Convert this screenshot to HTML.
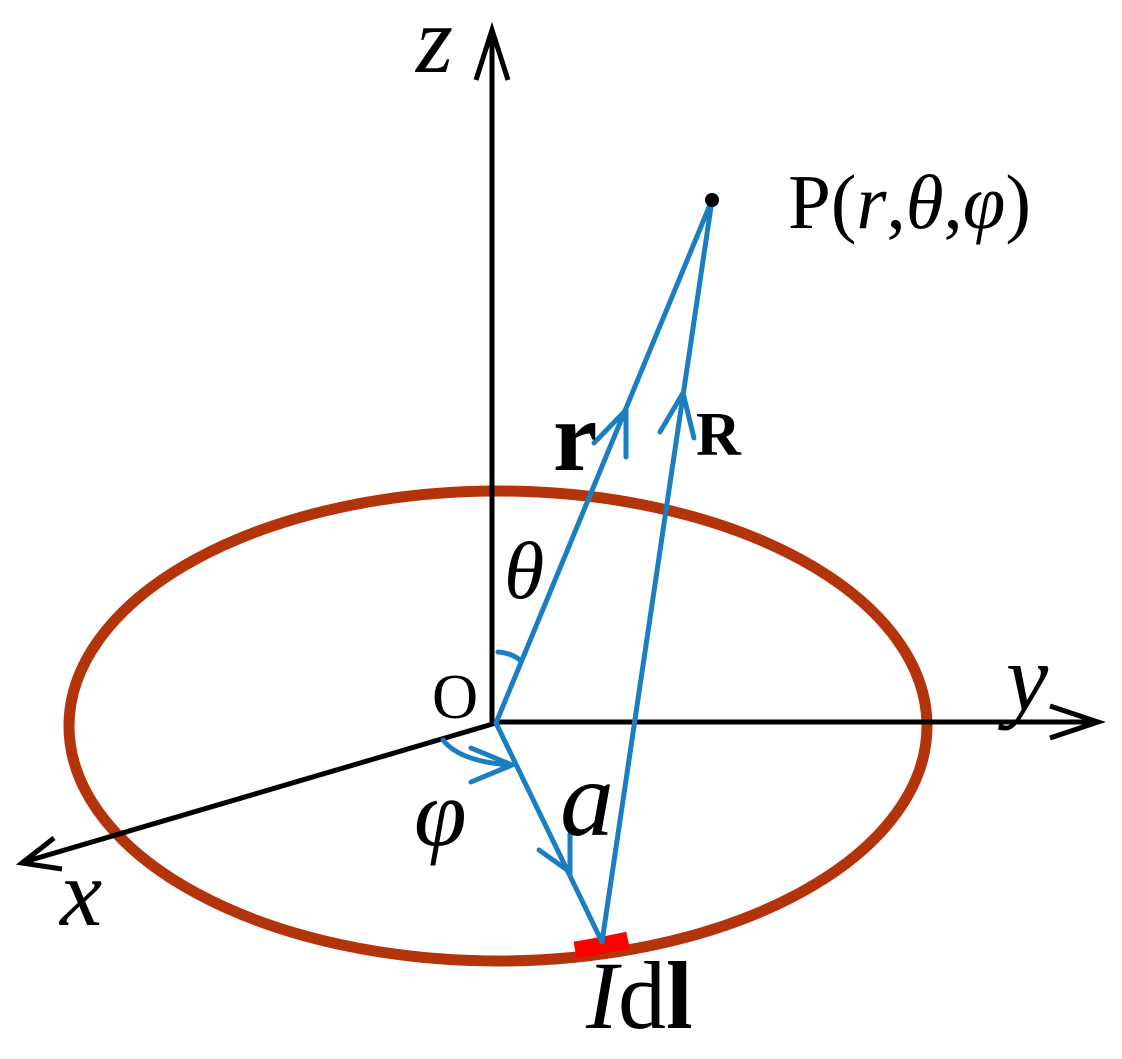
<!DOCTYPE html>
<html><head><style>body{margin:0;background:#fff}svg{display:block}</style></head>
<body>
<svg width="1122" height="1059" viewBox="0 0 1122 1059" xmlns="http://www.w3.org/2000/svg" font-family="Liberation Serif, serif">
<ellipse cx="498" cy="726" rx="429" ry="235" fill="none" stroke="#b3330a" stroke-width="11"/>
<g stroke="#000" stroke-width="5" fill="none">
<line x1="492" y1="723" x2="492" y2="34"/>
<polyline points="476,80 492,30 508,80" stroke-linejoin="miter"/>
<line x1="492" y1="722" x2="1096" y2="722"/>
<polyline points="1050,706 1098,722 1050,738"/>
<line x1="496" y1="723" x2="24" y2="862"/>
<polyline points="54,838 22,863 62,869"/>
</g>
<path d="M575,950 Q600,946 628,940" stroke="#ff0000" stroke-width="17" fill="none"/>
<g stroke="#1a7ec1" stroke-width="5" fill="none" stroke-linecap="round">
<line x1="496" y1="723" x2="712" y2="200"/>
<line x1="602" y1="942" x2="712" y2="200"/>
<line x1="496" y1="723" x2="602" y2="942"/>
<polyline points="594,443 626,410 626,457"/>
<polyline points="660,432 683,393 694,438"/>
<polyline points="539,850 570,872 570,834"/>
<path d="M443,740 Q460,762 512,765"/>
<polyline points="471,748 512,765 471,782"/>
<path d="M498,652 Q512,653 521,661"/>
</g>
<circle cx="712" cy="200" r="7" fill="#000"/>
<text x="416" y="72" font-size="95" font-style="italic">z</text>
<text x="1006" y="710" font-size="95" font-style="italic">y</text>
<text x="60" y="925" font-size="95" font-style="italic">x</text>
<text x="788" y="228" font-size="77">P(<tspan font-style="italic">r</tspan>,<tspan font-style="italic">θ</tspan>,<tspan font-style="italic">φ</tspan>)</text>
<text x="553" y="470" font-size="100" font-weight="bold">r</text>
<text x="696" y="455" font-size="62" font-weight="bold">R</text>
<text x="504" y="598" font-size="82" font-style="italic">θ</text>
<text x="432" y="718" font-size="64">O</text>
<text x="414" y="845" font-size="95" font-style="italic">φ</text>
<text x="560" y="835" font-size="108" font-style="italic">a</text>
<text x="586" y="1028" font-size="96"><tspan font-style="italic">I</tspan>d<tspan font-weight="bold">l</tspan></text>
</svg>
</body></html>
